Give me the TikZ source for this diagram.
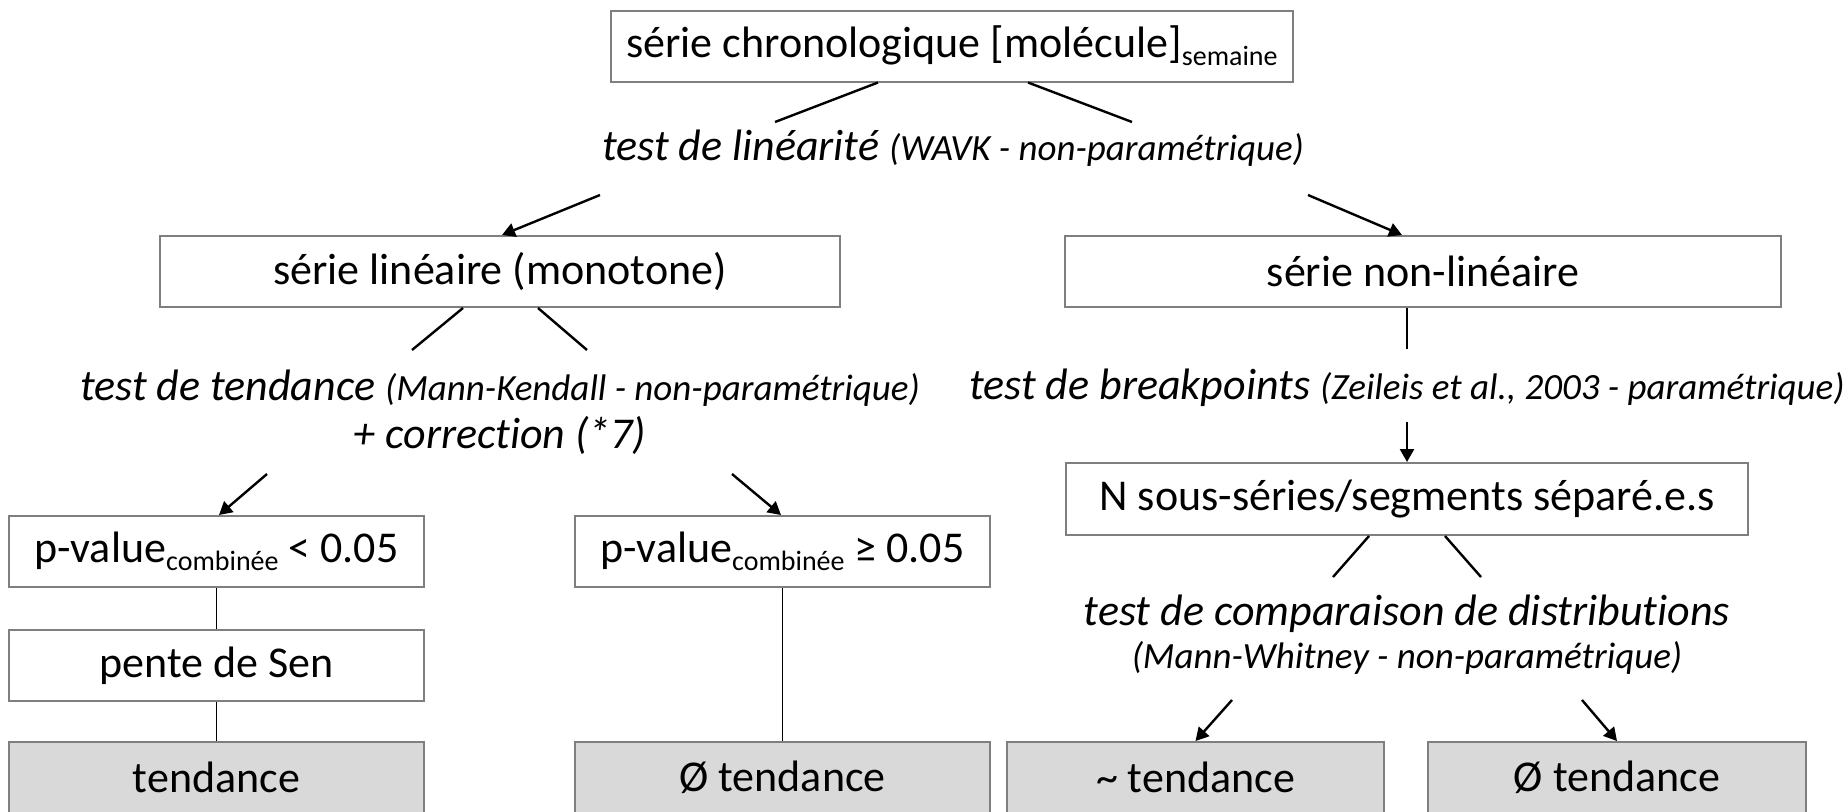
\documentclass[tikz,border=0pt]{standalone}
\usepackage{fontspec}
\setmainfont{Carlito}[Ligatures={NoCommon,NoRare,NoContextual},Contextuals=NoAlternate]
\usetikzlibrary{arrows.meta}
\definecolor{boxgray}{RGB}{127,127,127}
\definecolor{endgray}{RGB}{217,217,217}
\newcommand\subtxt[1]{\raisebox{-4pt}{\fontsize{14}{14}\selectfont #1}}
\newcommand\smallit[1]{{\fontsize{18.5}{18.5}\selectfont #1}}
\begin{document}
\begin{tikzpicture}[x=0.5pt,y=-0.5pt,
  box/.style={draw=boxgray, line width=1pt, fill=white, minimum height=35.5pt, inner sep=0pt, font=\fontsize{22}{22}\selectfont},
  endbox/.style={box, fill=endgray},
  lbl/.style={font=\fontsize{22}{22}\selectfont\itshape, inner sep=0pt, anchor=base},
  conn/.style={line width=1.2pt},
  arr/.style={conn, -{Triangle[length=6.5pt,width=7pt]}}
]
\useasboundingbox (0,0) rectangle (1847,811);
\clip (0,0) rectangle (1847,811);

% boxes
\node[box, minimum width=341pt] (top) at (952,46) {série chronologique [molécule]\subtxt{semaine}};
\node[box, minimum width=340pt] (lin) at (500,271.5) {série linéaire (monotone)};
\node[box, minimum width=358pt] (nonlin) at (1423,271.5) {série non-linéaire};
\node[box, minimum width=341pt, minimum height=36pt] (nseg) at (1407,499) {N sous-séries/segments séparé.e.s};
\node[box, minimum width=207.5pt] (plow) at (216.5,551.5) {p-value\subtxt{combinée} < 0.05};
\node[box, minimum width=207.5pt] (phigh) at (782.5,551.5) {p-value\subtxt{combinée} ≥ 0.05};
\node[box, minimum width=207.5pt] (sen) at (216.5,665.5) {pente de Sen};
\node[endbox, minimum width=207.5pt] (tend) at (216.5,777.5) {tendance};
\node[endbox, minimum width=207.5pt] (notendA) at (782.5,777.5) {Ø tendance};
\node[endbox, minimum width=188.5pt] (approx) at (1195.5,777.5) {\textasciitilde{} tendance};
\node[endbox, minimum width=189pt] (notendB) at (1617,777.5) {Ø tendance};

% test labels
\node[lbl] (lintest) at (953,160) {test de linéarité \smallit{(WAVK - non-paramétrique)}};
\node[lbl] (trend) at (500,400) {test de tendance \smallit{(Mann-Kendall - non-paramétrique)}};
\node[lbl] (corr) at (500,448) {+ correction (*7)};
\node[lbl] (bp) at (1407,399) {test de breakpoints \smallit{(Zeileis et al., 2003 - paramétrique)}};
\node[lbl] (comp) at (1407,625) {test de comparaison de distributions};
\node[lbl] (mw) at (1407,668) {\smallit{(Mann-Whitney - non-paramétrique)}};

% free ends
\coordinate (t1) at (775,122);
\coordinate (t2) at (1132,122);
\coordinate (a1) at (600,195);
\coordinate (a2) at (1308,195);
\coordinate (l1) at (412,350);
\coordinate (l2) at (587,350);
\coordinate (n1) at (1407,349);
\coordinate (b1) at (1407,422);
\coordinate (c1) at (267,474);
\coordinate (c2) at (732,474);
\coordinate (s1) at (1333,577);
\coordinate (s2) at (1481,577);
\coordinate (m1) at (1232,700);
\coordinate (m2) at (1582,700);

% connectors
\draw[conn] ([xshift=-37pt]top.south) -- (t1);
\draw[conn] ([xshift=38pt]top.south) -- (t2);
\draw[arr] (a1) -- ([xshift=1pt]lin.north);
\draw[arr] (a2) -- ([xshift=-10.5pt]nonlin.north);
\draw[conn] ([xshift=-18.5pt]lin.south) -- (l1);
\draw[conn] ([xshift=19pt]lin.south) -- (l2);
\draw[conn] ([xshift=-8pt]nonlin.south) -- (n1);
\draw[arr] (b1) -- (nseg.north);
\draw[arr] (c1) -- ([xshift=1.25pt]plow.north);
\draw[arr] (c2) -- ([xshift=-0.75pt]phigh.north);
\draw[conn, line width=0.8pt] (plow.south) -- (sen.north);
\draw[conn, line width=0.8pt] (sen.south) -- (tend.north);
\draw[conn, line width=0.8pt] (phigh.south) -- (notendA.north);
\draw[conn] ([xshift=-19pt]nseg.south) -- (s1);
\draw[conn] ([xshift=19pt]nseg.south) -- (s2);
\draw[arr] (m1) -- (approx.north);
\draw[arr] (m2) -- (notendB.north);
\end{tikzpicture}
\end{document}
